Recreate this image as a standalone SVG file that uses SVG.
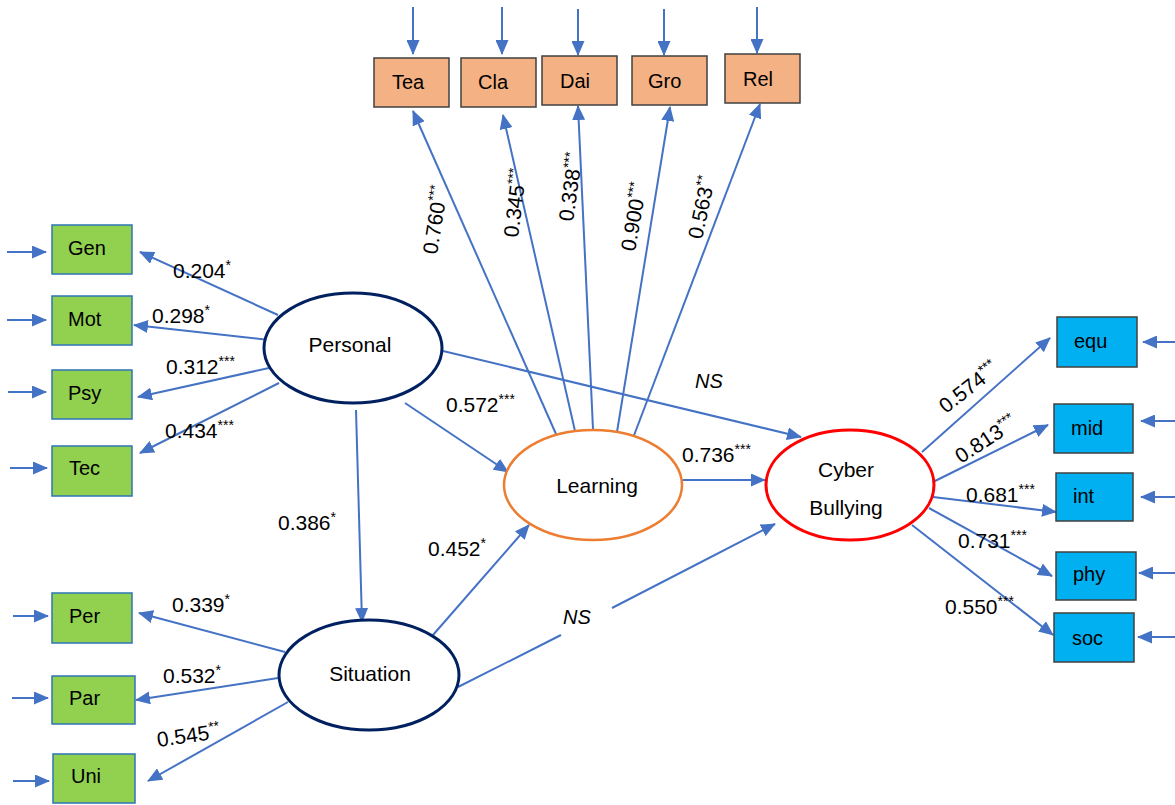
<svg xmlns="http://www.w3.org/2000/svg" width="1175" height="805" viewBox="0 0 1175 805">
<defs>
<marker id="ah" viewBox="0 0 15 13" refX="14" refY="6.5" markerWidth="15" markerHeight="13" markerUnits="userSpaceOnUse" orient="auto"><path d="M0,0 L15,6.5 L0,13 z" fill="#4472C4"/></marker>
</defs>
<style>
text{font-family:"Liberation Sans",Arial,sans-serif;fill:#000}
.lbl{font-size:20px}
.num{font-size:21px}
.sup{font-size:14px}
.ns{font-size:20px;font-style:italic}
.ell{font-size:21px}
.c{stroke:#4472C4;stroke-width:2;fill:none}
.a{stroke:#4472C4;stroke-width:2;fill:none;marker-end:url(#ah)}
.org{fill:#F4B183;stroke:#404040;stroke-width:1.5}
.grn{fill:#92D050;stroke:#2E75B6;stroke-width:1.5}
.blu{fill:#00B0F0;stroke:#404040;stroke-width:1.5}
</style>
<rect width="1175" height="805" fill="#fff"/>
<g id="connectors">
<line class="a" x1="413" y1="7" x2="413" y2="54"/>
<line class="a" x1="502" y1="7" x2="502" y2="54"/>
<line class="a" x1="578" y1="9" x2="578" y2="55"/>
<line class="a" x1="664" y1="9" x2="664" y2="55"/>
<line class="a" x1="757" y1="7" x2="757" y2="53"/>
<line class="a" x1="7" y1="252" x2="46" y2="252"/>
<line class="a" x1="7" y1="320" x2="46" y2="320"/>
<line class="a" x1="8" y1="392" x2="46" y2="392"/>
<line class="a" x1="10" y1="468" x2="47" y2="468"/>
<line class="a" x1="13" y1="616" x2="48" y2="616"/>
<line class="a" x1="12" y1="698" x2="48" y2="698"/>
<line class="a" x1="13" y1="781" x2="49" y2="781"/>
<line class="a" x1="1175" y1="342" x2="1143" y2="342"/>
<line class="a" x1="1175" y1="421" x2="1141" y2="421"/>
<line class="a" x1="1175" y1="497" x2="1141" y2="497"/>
<line class="a" x1="1175" y1="573" x2="1139" y2="573"/>
<line class="a" x1="1175" y1="637" x2="1138" y2="637"/>
<line class="a" x1="556" y1="434" x2="413" y2="111"/>
<line class="a" x1="575" y1="431" x2="503" y2="115"/>
<line class="a" x1="593" y1="429" x2="578" y2="106"/>
<line class="a" x1="617" y1="432" x2="670" y2="107"/>
<line class="a" x1="633" y1="438" x2="760" y2="104"/>
<line class="a" x1="278" y1="315" x2="140" y2="252"/>
<line class="a" x1="269" y1="340" x2="134" y2="325"/>
<line class="a" x1="269" y1="368" x2="138" y2="397"/>
<line class="a" x1="279" y1="383" x2="140" y2="453"/>
<line class="a" x1="285" y1="652" x2="139" y2="613"/>
<line class="a" x1="278" y1="678" x2="136" y2="700"/>
<line class="a" x1="288" y1="702" x2="148" y2="781"/>
<line class="a" x1="922" y1="452" x2="1050" y2="338"/>
<line class="a" x1="933" y1="482" x2="1048" y2="425"/>
<line class="a" x1="933" y1="497" x2="1056" y2="512"/>
<line class="a" x1="929" y1="508" x2="1052" y2="576"/>
<line class="a" x1="912" y1="525" x2="1053" y2="635"/>
<line class="a" x1="443" y1="351" x2="801" y2="437"/>
<line class="a" x1="405" y1="403" x2="508" y2="472"/>
<line class="a" x1="356" y1="410" x2="362" y2="622"/>
<line class="a" x1="433" y1="635" x2="529" y2="525"/>
<line class="a" x1="683" y1="480" x2="765" y2="480"/>
<line class="c" x1="458" y1="687" x2="561" y2="635"/>
<line class="a" x1="612" y1="608" x2="775" y2="524"/>
</g>
<g id="labels">
<text class="num" transform="rotate(-81 437 255)" x="437" y="255">0.760<tspan class="sup" dy="-8">***</tspan></text>
<text class="num" transform="rotate(-83 518 238)" x="518" y="238">0.345<tspan class="sup" dy="-8">***</tspan></text>
<text class="num" transform="rotate(-82 573 222)" x="573" y="222">0.338<tspan class="sup" dy="-8">***</tspan></text>
<text class="num" transform="rotate(-80 635 252)" x="635" y="252">0.900<tspan class="sup" dy="-8">***</tspan></text>
<text class="num" transform="rotate(-78 702 240)" x="702" y="240">0.563<tspan class="sup" dy="-8">**</tspan></text>
<text class="num" x="173" y="278">0.204<tspan class="sup" dy="-8">*</tspan></text>
<text class="num" x="152" y="323">0.298<tspan class="sup" dy="-8">*</tspan></text>
<text class="num" x="166" y="374">0.312<tspan class="sup" dy="-8">***</tspan></text>
<text class="num" x="165" y="438">0.434<tspan class="sup" dy="-8">***</tspan></text>
<text class="num" x="172" y="612">0.339<tspan class="sup" dy="-8">*</tspan></text>
<text class="num" x="163" y="683">0.532<tspan class="sup" dy="-8">*</tspan></text>
<text class="num" transform="rotate(-8 158 747)" x="158" y="747">0.545<tspan class="sup" dy="-8">**</tspan></text>
<text class="num" x="446" y="412">0.572<tspan class="sup" dy="-8">***</tspan></text>
<text class="num" x="682" y="462">0.736<tspan class="sup" dy="-8">***</tspan></text>
<text class="num" x="278" y="530">0.386<tspan class="sup" dy="-8">*</tspan></text>
<text class="num" x="428" y="556">0.452<tspan class="sup" dy="-8">*</tspan></text>
<text class="ns" x="695" y="388">NS</text>
<text class="ns" x="563" y="624">NS</text>
<text class="num" transform="rotate(-38 946 414)" x="946" y="414">0.574<tspan class="sup" dy="-8">***</tspan></text>
<text class="num" transform="rotate(-33 961 464)" x="961" y="464">0.813<tspan class="sup" dy="-8">***</tspan></text>
<text class="num" x="966" y="502">0.681<tspan class="sup" dy="-8">***</tspan></text>
<text class="num" x="958" y="548">0.731<tspan class="sup" dy="-8">***</tspan></text>
<text class="num" x="945" y="614">0.550<tspan class="sup" dy="-8">***</tspan></text>
</g>
<g id="Tea"><rect class="org" x="374" y="58" width="75" height="49"/><text class="lbl" x="392" y="89">Tea</text></g>
<g id="Cla"><rect class="org" x="461" y="58" width="75" height="49"/><text class="lbl" x="478" y="89">Cla</text></g>
<g id="Dai"><rect class="org" x="542" y="56" width="75" height="49"/><text class="lbl" x="560" y="88">Dai</text></g>
<g id="Gro"><rect class="org" x="632" y="56" width="75" height="49"/><text class="lbl" x="648" y="88">Gro</text></g>
<g id="Rel"><rect class="org" x="725" y="54" width="75" height="49"/><text class="lbl" x="743" y="86">Rel</text></g>
<g id="Gen"><rect class="grn" x="52" y="225" width="80" height="49"/><text class="lbl" x="68" y="255">Gen</text></g>
<g id="Mot"><rect class="grn" x="52" y="296" width="80" height="49"/><text class="lbl" x="68" y="326">Mot</text></g>
<g id="Psy"><rect class="grn" x="52" y="370" width="80" height="49"/><text class="lbl" x="68" y="400">Psy</text></g>
<g id="Tec"><rect class="grn" x="52" y="446" width="80" height="50"/><text class="lbl" x="69" y="475">Tec</text></g>
<g id="Per"><rect class="grn" x="52" y="593" width="80" height="50"/><text class="lbl" x="69" y="623">Per</text></g>
<g id="Par"><rect class="grn" x="52" y="676" width="83" height="48"/><text class="lbl" x="69" y="705">Par</text></g>
<g id="Uni"><rect class="grn" x="53" y="754" width="82" height="49"/><text class="lbl" x="71" y="783">Uni</text></g>
<g id="equ"><rect class="blu" x="1057" y="317" width="80" height="50"/><text class="lbl" x="1074" y="348">equ</text></g>
<g id="mid"><rect class="blu" x="1054" y="404" width="79" height="49"/><text class="lbl" x="1071" y="435">mid</text></g>
<g id="int"><rect class="blu" x="1056" y="473" width="77" height="48"/><text class="lbl" x="1073" y="503">int</text></g>
<g id="phy"><rect class="blu" x="1056" y="552" width="80" height="48"/><text class="lbl" x="1073" y="581">phy</text></g>
<g id="soc"><rect class="blu" x="1054" y="613" width="80" height="49"/><text class="lbl" x="1072" y="645">soc</text></g>
<g id="Personal"><ellipse cx="353" cy="348" rx="89" ry="55" fill="#fff" stroke="#002060" stroke-width="3"/><text class="ell" x="350" y="352" text-anchor="middle">Personal</text></g>
<g id="Learning"><ellipse cx="593" cy="485" rx="89" ry="55" fill="#fff" stroke="#ED7D31" stroke-width="2.5"/><text class="ell" x="597" y="493" text-anchor="middle">Learning</text></g>
<g id="Situation"><ellipse cx="369" cy="675" rx="90" ry="55" fill="#fff" stroke="#002060" stroke-width="3"/><text class="ell" x="370" y="681" text-anchor="middle">Situation</text></g>
<g id="CyberBullying"><ellipse cx="850" cy="485" rx="84" ry="55" fill="#fff" stroke="#FF0000" stroke-width="3"/><text class="ell" x="846" y="477" text-anchor="middle">Cyber</text><text class="ell" x="846" y="515" text-anchor="middle">Bullying</text></g>
</svg>
